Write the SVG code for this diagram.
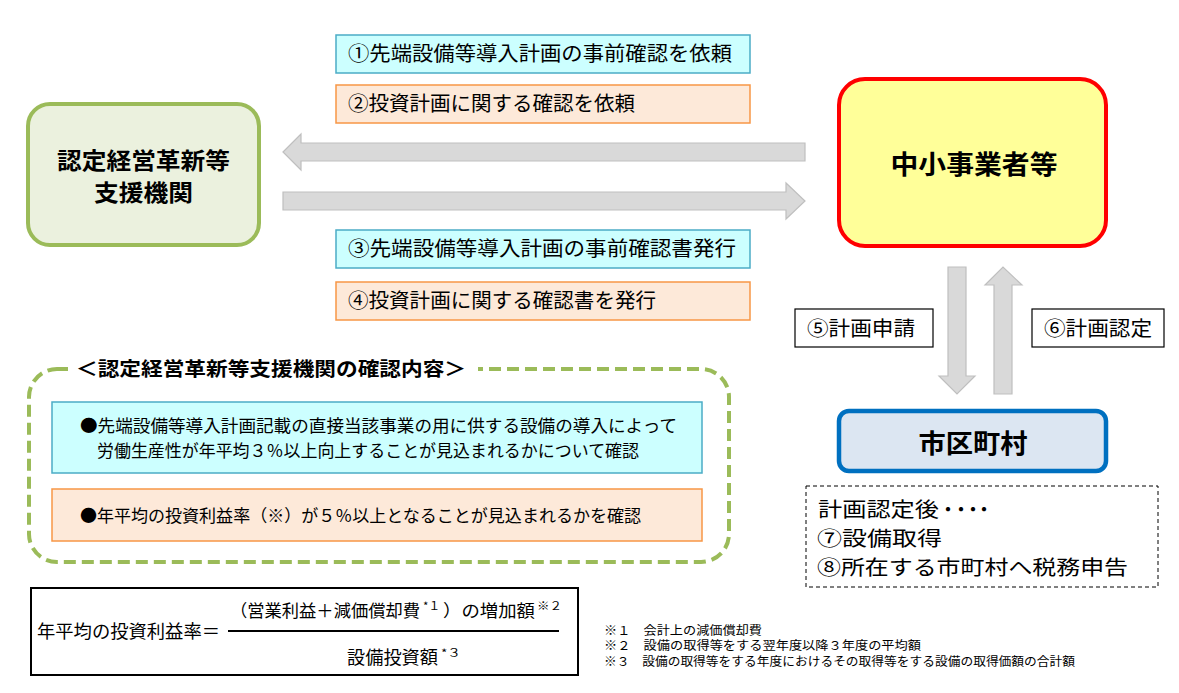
<svg xmlns="http://www.w3.org/2000/svg" width="1179" height="693" viewBox="0 0 1179 693">
<style>
text{font-family:"Noto Sans CJK JP","Noto Sans",sans-serif;fill:#000}
.cyan{fill:#CCFFFF;stroke:#4BACC6;stroke-width:1.5}
.orange{fill:#FDE9D9;stroke:#F79646;stroke-width:1.5}
.arrow{fill:#D9D9D9;stroke:#BFBFBF;stroke-width:1.2}
.lbl{font-size:20px}
.b{font-weight:bold}
.wbox{fill:#fff;stroke:#000;stroke-width:1.2}
.sup{font-size:11px}
</style>
<rect width="1179" height="693" fill="#fff"/>

<g id="connectors">
  <polygon class="arrow" points="283,152 301,134 301,143 805,143 805,161 301,161 301,170"/>
  <polygon class="arrow" points="283,192 786,192 786,183 805,201 786,219 786,210 283,210"/>
  <polygon class="arrow" points="948,267 966,267 966,376 975,376 957,394 939,376 948,376"/>
  <polygon class="arrow" points="994,394 1012,394 1012,285 1022,285 1003,267 985,285 994,285"/>
</g>

<g id="label1">
  <rect class="cyan" x="336" y="35" width="414" height="38"/>
  <text class="lbl" x="348" y="61" textLength="384" lengthAdjust="spacingAndGlyphs">①先端設備等導入計画の事前確認を依頼</text>
</g>
<g id="label2">
  <rect class="orange" x="336" y="85" width="414" height="38"/>
  <text class="lbl" x="348" y="111" textLength="287" lengthAdjust="spacingAndGlyphs">②投資計画に関する確認を依頼</text>
</g>
<g id="label3">
  <rect class="cyan" x="336" y="230" width="414" height="38"/>
  <text class="lbl" x="348" y="256" textLength="388" lengthAdjust="spacingAndGlyphs">③先端設備等導入計画の事前確認書発行</text>
</g>
<g id="label4">
  <rect class="orange" x="336" y="282" width="414" height="38"/>
  <text class="lbl" x="348" y="308" textLength="308" lengthAdjust="spacingAndGlyphs">④投資計画に関する確認書を発行</text>
</g>

<g id="support-agency">
  <rect x="28" y="104" width="231" height="141" rx="22" fill="#EBF1DE" stroke="#9BBB59" stroke-width="4"/>
  <text class="b" x="143.5" y="169" font-size="23" text-anchor="middle" textLength="173" lengthAdjust="spacingAndGlyphs">認定経営革新等</text>
  <text class="b" x="143.5" y="201" font-size="23" text-anchor="middle" textLength="99" lengthAdjust="spacingAndGlyphs">支援機関</text>
</g>

<g id="sme">
  <rect x="839" y="79" width="267" height="167" rx="26" fill="#FFFF99" stroke="#FF0000" stroke-width="4"/>
  <text class="b" x="974" y="174" font-size="26" text-anchor="middle" textLength="167" lengthAdjust="spacingAndGlyphs">中小事業者等</text>
</g>

<g id="label5">
  <rect class="wbox" x="795" y="309" width="138" height="38"/>
  <text class="lbl" x="807" y="336" textLength="108" lengthAdjust="spacingAndGlyphs">⑤計画申請</text>
</g>
<g id="label6">
  <rect class="wbox" x="1032" y="309" width="132" height="38"/>
  <text class="lbl" x="1044" y="336" textLength="108" lengthAdjust="spacingAndGlyphs">⑥計画認定</text>
</g>

<g id="municipality">
  <rect x="839" y="411" width="267" height="60" rx="10" fill="#DCE6F2" stroke="#0070C0" stroke-width="4.5"/>
  <text class="b" x="973" y="453" font-size="26" text-anchor="middle" textLength="109" lengthAdjust="spacingAndGlyphs">市区町村</text>
</g>

<g id="after-note">
  <rect x="806" y="486" width="352" height="101" fill="#fff" stroke="#000" stroke-width="1" stroke-dasharray="4,3"/>
  <text x="818" y="517" font-size="20"><tspan textLength="121" lengthAdjust="spacingAndGlyphs">計画認定後</tspan><tspan x="938 951 963 974">・・・・</tspan></text>
  <text x="817" y="546" font-size="20" textLength="125" lengthAdjust="spacingAndGlyphs">⑦設備取得</text>
  <text x="817" y="575" font-size="20" textLength="311" lengthAdjust="spacingAndGlyphs">⑧所在する市町村へ税務申告</text>
</g>

<g id="check-contents">
  <rect x="29" y="369" width="700" height="193" rx="28" fill="none" stroke="#9BBB59" stroke-width="4" stroke-dasharray="12,6"/>
  <rect x="68" y="356" width="410" height="26" fill="#fff"/>
  <text class="b" x="76" y="376" font-size="19" textLength="390" lengthAdjust="spacingAndGlyphs">＜認定経営革新等支援機関の確認内容＞</text>
  <rect class="cyan" x="52" y="402" width="650" height="71"/>
  <text x="80" y="432" font-size="17" textLength="597" lengthAdjust="spacingAndGlyphs">●先端設備等導入計画記載の直接当該事業の用に供する設備の導入によって</text>
  <text x="97" y="457" font-size="17" textLength="542" lengthAdjust="spacingAndGlyphs">労働生産性が年平均３％以上向上することが見込まれるかについて確認</text>
  <rect class="orange" x="52" y="489" width="650" height="52"/>
  <text x="80" y="522" font-size="17" textLength="561" lengthAdjust="spacingAndGlyphs">●年平均の投資利益率（※）が５％以上となることが見込まれるかを確認</text>
</g>

<g id="formula">
  <rect x="31" y="588" width="547" height="87" fill="#fff" stroke="#000" stroke-width="2"/>
  <text x="37" y="638" font-size="18" textLength="183" lengthAdjust="spacingAndGlyphs">年平均の投資利益率＝</text>
  <line x1="228" y1="631" x2="559" y2="631" stroke="#000" stroke-width="2"/>
  <text x="230" y="617" font-size="17" textLength="190" lengthAdjust="spacingAndGlyphs">（営業利益＋減価償却費</text>
  <text class="sup" x="423" y="610" textLength="17" lengthAdjust="spacingAndGlyphs">*１</text>
  <text x="443" y="617" font-size="17" textLength="92" lengthAdjust="spacingAndGlyphs">）の増加額</text>
  <text class="sup" x="537" y="610" textLength="25" lengthAdjust="spacingAndGlyphs">※２</text>
  <text x="347" y="664" font-size="18" textLength="91" lengthAdjust="spacingAndGlyphs">設備投資額</text>
  <text class="sup" x="441" y="657" textLength="20" lengthAdjust="spacingAndGlyphs">*３</text>
</g>

<g id="footnotes">
  <text x="604" y="635" font-size="12" textLength="158" lengthAdjust="spacingAndGlyphs">※１　会計上の減価償却費</text>
  <text x="604" y="650" font-size="12" textLength="317" lengthAdjust="spacingAndGlyphs">※２　設備の取得等をする翌年度以降３年度の平均額</text>
  <text x="604" y="666" font-size="12" textLength="471" lengthAdjust="spacingAndGlyphs">※３　設備の取得等をする年度におけるその取得等をする設備の取得価額の合計額</text>
</g>
</svg>
